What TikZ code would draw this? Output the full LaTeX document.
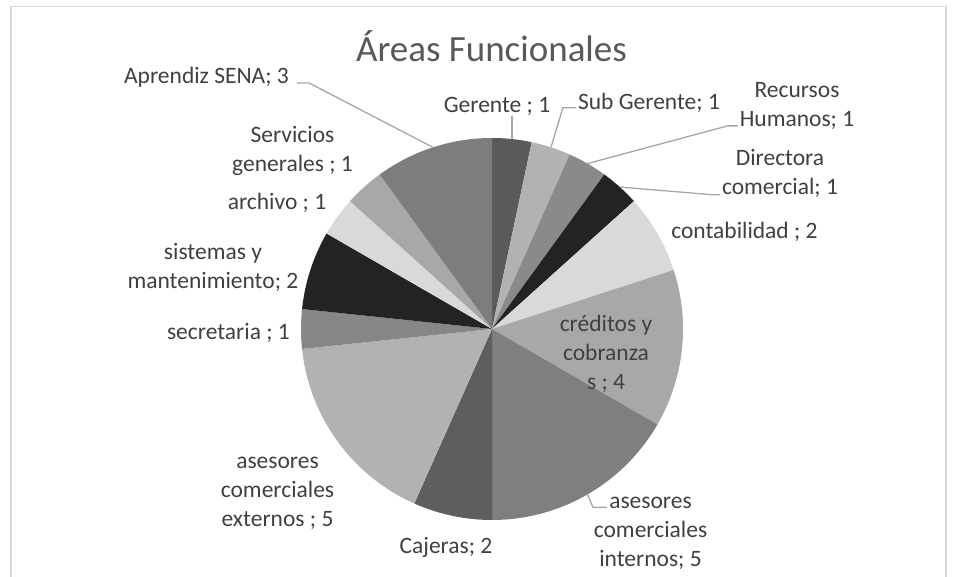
\documentclass[tikz,border=0pt]{standalone}
\usepackage{fontspec}
\setmainfont{Carlito}

\definecolor{txtgray}{HTML}{404040}
\definecolor{titlegray}{HTML}{595959}
\definecolor{leadgray}{HTML}{A6A6A6}
\definecolor{framegray}{HTML}{D9D9D9}
% slice shades
\definecolor{colger}{HTML}{5A5A5A}
\definecolor{colsub}{HTML}{B2B2B2}
\definecolor{colrh}{HTML}{8A8A8A}
\definecolor{coldir}{HTML}{232323}
\definecolor{colcon}{HTML}{D9D9D9}
\definecolor{colcre}{HTML}{A8A8A8}
\definecolor{colint}{HTML}{7F7F7F}
\definecolor{colcaj}{HTML}{5E5E5E}
\definecolor{colext}{HTML}{B2B2B2}
\definecolor{colsec}{HTML}{878787}
\definecolor{colsis}{HTML}{232323}
\definecolor{colarch}{HTML}{D9D9D9}
\definecolor{colser}{HTML}{A8A8A8}
\definecolor{colapr}{HTML}{7D7D7D}

\tikzset{
    lbl/.style={font=\fontsize{23.5}{29}\selectfont, text=txtgray,
        align=center, inner sep=0pt, anchor=base},
    leader/.style={draw=leadgray, line width=1.3pt},
}

\begin{document}
\begin{tikzpicture}[x=1pt,y=1pt]
    \useasboundingbox (0,0) rectangle (958,577);
    % chart frame, open at the bottom
    \draw[framegray, line width=1.3pt] (11,0) -- (11,570.5) -- (946,570.5) -- (946,0);
    \node[font=\fontsize{37}{44}\selectfont, text=titlegray, inner sep=0pt,
        anchor=base] (title) at (491.5,515.3) {Áreas Funcionales};

    \coordinate (c) at (492,248);
    \foreach \sname/\sfrom/\sto in {ger/90/78, sub/78/66, rh/66/54, dir/54/42,
        con/42/18, cre/18/-30, int/-30/-90, caj/-90/-114, ext/-114/-174,
        sec/-174/-186, sis/-186/-210, arch/-210/-222, ser/-222/-234, apr/-234/-270} {
        \fill[col\sname] (c) -- ++(\sfrom:191) arc[start angle=\sfrom, end angle=\sto, radius=191] -- cycle;
        \path (c) ++({(\sfrom+\sto)/2}:191) coordinate (p-\sname);
    }

    % labels (base = last line)
    \node[lbl] (ger) at (497,464) {Gerente ; 1};
    \node[lbl] (sub) at (649,467.7) {Sub Gerente; 1};
    \node[lbl] (rh) at (797,450.3) {Recursos\\Humanos; 1};
    \node[lbl] (dir) at (780,382) {Directora\\comercial; 1};
    \node[lbl] (con) at (744.5,338.7) {contabilidad ; 2};
    \node[lbl] (cre) at (606,187) {créditos y\\cobranza\\s ; 4};
    \node[lbl] (int) at (650.5,10.3) {asesores\\comerciales\\internos; 5};
    \node[lbl] (caj) at (446,23.7) {Cajeras; 2};
    \node[lbl] (ext) at (277.5,50) {asesores\\comerciales\\externos ; 5};
    \node[lbl, anchor=base east] (sec) at (290,237) {secretaria ; 1};
    \node[lbl, anchor=base east] (sis) at (298.5,288.7) {sistemas y\\mantenimiento; 2};
    \node[lbl] (arch) at (277,367) {archivo ; 1};
    \node[lbl] (ser) at (292.5,405.3) {Servicios\\generales ; 1};
    \node[lbl] (apr) at (206.5,493) {Aprendiz SENA; 3};

    \draw[leader] (p-ger) -- (p-ger |- ger.south);
    \draw[leader] (p-sub) -- ([shift={(-15,1.5)}]sub.base west) -- ([shift={(-2,1.5)}]sub.base west);
    \draw[leader] (p-rh) -- ([shift={(-12,4)}]rh.south west) -- ([shift={(-2,4)}]rh.south west);
    \draw[leader] (p-dir) -- ([shift={(-10,3.5)}]dir.south west) -- ([shift={(-2,3.5)}]dir.south west);
    \draw[leader] (p-apr) -- ([shift={(20,1)}]apr.base east) -- ([shift={(8,1)}]apr.base east);
    \draw[leader] (p-int) -- ([shift={(-57.5,59.3)}]int.base) -- ([shift={(-43.5,59.3)}]int.base);
\end{tikzpicture}
\end{document}
